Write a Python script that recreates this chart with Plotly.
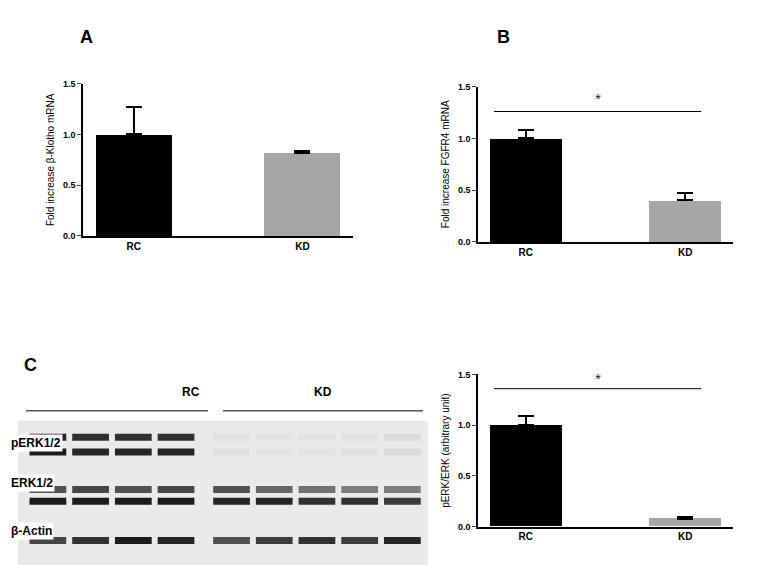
import plotly.graph_objects as go

cats = ["RC", "KD"]
a_vals = [1.0, 0.82]; a_err = [0.27, 0.02]
b_vals = [1.0, 0.40]; b_err = [0.08, 0.07]
c_vals = [1.0, 0.08]; c_err = [0.09, 0.02]
bar_colors = ["#000000", "#a6a6a6"]
yticks = [0.0, 0.5, 1.0, 1.5]

# blot band intensities (0..1 darkness) per lane: 4 RC lanes, 5 KD lanes
lanes_x = [1.1, 2.1, 3.1, 4.1, 5.4, 6.4, 7.4, 8.4, 9.4]
perk_upper = [0.9, 0.85, 0.85, 0.85, 0.03, 0.02, 0.02, 0.03, 0.06]
perk_lower = [0.95, 0.9, 0.9, 0.9, 0.03, 0.02, 0.02, 0.03, 0.06]
erk_upper = [0.7, 0.75, 0.7, 0.75, 0.7, 0.6, 0.55, 0.5, 0.5]
erk_lower = [0.95, 0.95, 0.95, 0.95, 0.9, 0.9, 0.85, 0.85, 0.8]
actin = [0.75, 0.85, 0.95, 0.9, 0.7, 0.8, 0.85, 0.8, 0.9]
band_rows = [(perk_upper, 8.87), (perk_lower, 7.87), (erk_upper, 5.33), (erk_lower, 4.53), (actin, 1.87)]

W, H = 760, 565
def xd(a, b): return [a / W, b / W]
def yd(top, bot): return [1 - bot / H, 1 - top / H]

fig = go.Figure()
panels = [("x", "y", a_vals, a_err, "Fold increase β-Klotho mRNA"),
          ("x2", "y2", b_vals, b_err, "Fold increase FGFR4 mRNA"),
          ("x3", "y3", c_vals, c_err, "pERK/ERK (arbitrary unit)")]
for xa, ya, v, e, t in panels:
    fig.add_trace(go.Bar(x=[0, 1], y=v, xaxis=xa, yaxis=ya, width=0.45,
                         marker=dict(color=bar_colors, line=dict(width=0)),
                         error_y=dict(type="data", array=e, arrayminus=[0, 0],
                                      color="black", thickness=2, width=8),
                         showlegend=False))

F = "Arial, Liberation Sans"
def setax(n, xdom, ydom, title):
    sx = "" if n == 1 else str(n)
    fig.layout["xaxis" + sx] = dict(domain=xdom, range=[-0.3, 1.3], tickvals=[0, 1],
        ticktext=["<b>RC</b>", "<b>KD</b>"],
        showline=True, linecolor="black", linewidth=1.5, ticks="", showgrid=False, zeroline=False,
        tickfont=dict(family=F, size=10, color="black"), anchor="y" + sx, fixedrange=True)
    fig.layout["yaxis" + sx] = dict(domain=ydom, range=[0, 1.5], tickvals=yticks,
        ticktext=["<b>0.0</b>", "<b>0.5</b>", "<b>1.0</b>", "<b>1.5</b>"], showline=True,
        linecolor="black", linewidth=1.5, ticks="outside", ticklen=4, showgrid=False, zeroline=False,
        tickfont=dict(family=F, size=9, color="black"),
        title=dict(text=title, font=dict(family=F, size=10, color="black"), standoff=6),
        anchor="x" + sx)
setax(1, xd(75, 345), yd(72, 227), panels[0][4])
setax(2, xd(470, 725), yd(75, 233), panels[1][4])
setax(3, xd(470, 725), yd(368, 523), panels[2][4])

for xa, ya, ly, sy in [("x2", "y2", 1.26, 1.4), ("x3", "y3", 1.36, 1.47)]:
    fig.add_trace(go.Scatter(x=[-0.2, 1.1], y=[ly, ly], mode="lines", line=dict(color="black", width=1),
                             xaxis=xa, yaxis=ya, showlegend=False, hoverinfo="skip"))
    fig.add_annotation(x=0.45, y=sy, xref=xa, yref=ya, text="*", showarrow=False,
                       font=dict(size=11, color="black"))

fig.update_layout(xaxis4=dict(domain=xd(10, 420), range=[0.4, 10], visible=False, anchor="y4", fixedrange=True),
                  yaxis4=dict(domain=yd(415, 565), range=[0, 10], visible=False, anchor="x4", fixedrange=True))
for vals, yy in band_rows:
    for x, d in zip(lanes_x, vals):
        g = int(232 - 215 * d)
        fig.add_trace(go.Scatter(x=[x - 0.43, x + 0.43], y=[yy, yy], mode="lines",
                                 line=dict(color=f"rgb({g},{g},{g})", width=7),
                                 xaxis="x4", yaxis="y4", showlegend=False, hoverinfo="skip"))

shapes = [dict(type="rect", xref="paper", yref="paper", x0=10 / W, x1=420 / W, y0=0, y1=1 - 415 / H,
               fillcolor="#eaeaea", line=dict(width=0), layer="below"),
          dict(type="line", xref="paper", yref="paper", x0=18 / W, x1=200 / W, y0=1 - 405 / H, y1=1 - 405 / H, line=dict(color="black", width=1)),
          dict(type="line", xref="paper", yref="paper", x0=215 / W, x1=415 / W, y0=1 - 405 / H, y1=1 - 405 / H, line=dict(color="black", width=1))]
fig.update_layout(shapes=shapes)

for txt, x, y, s in [("A", 70, 12, 18), ("B", 495, 12, 18), ("C", 14, 358, 18),
                     ("RC", 172, 395, 12), ("KD", 315, 395, 12)]:
    fig.add_annotation(x=x / W, y=1 - y / H, xref="paper", yref="paper", text=f"<b>{txt}</b>",
                       showarrow=False, font=dict(family=F, size=s, color="black"))
for txt, y in [("pERK1/2", 447), ("ERK1/2", 488), ("β-Actin", 537)]:
    fig.add_annotation(x=1 / W, y=1 - y / H, xref="paper", yref="paper", text=f"<b>{txt}</b>",
                       showarrow=False, xanchor="left", bgcolor="white",
                       font=dict(family=F, size=12, color="black"))

fig.update_layout(width=W, height=H, margin=dict(l=0, r=0, t=0, b=0),
                  plot_bgcolor="white", paper_bgcolor="white", bargap=0)
fig.write_html("out.html")
